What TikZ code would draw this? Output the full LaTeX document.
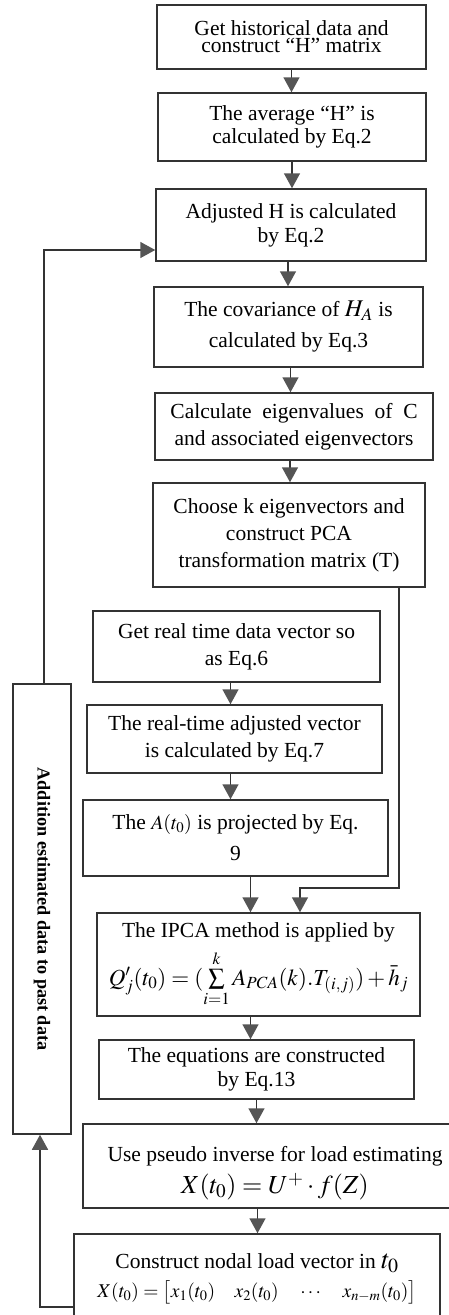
\documentclass[tikz,border=0pt]{standalone}
\usepackage{mathptmx}
\usepackage{fontspec}
\setmainfont{Liberation Serif}
\usetikzlibrary{arrows.meta}
\definecolor{linec}{HTML}{333333}
\definecolor{tipc}{HTML}{555555}
\begin{document}
\begin{tikzpicture}[x=1pt,y=-1pt,
  box/.style={draw=linec, line width=1.5pt, fill=white, align=center, inner sep=0pt,
              font=\fontsize{21.5}{27}\selectfont},
  arr/.style={draw=linec, line width=1.5pt,
              -{Triangle[length=15pt,width=16pt,color=tipc,fill=tipc]}},
  sidetext/.style={rotate=-90, font=\bfseries\fontsize{18.2}{20}\selectfont}]
\fill[white] (0,0) rectangle (449,1315);
\useasboundingbox (0,0) rectangle (449,1315);

% main column of process steps
\node[box, minimum width=269pt, minimum height=64pt, font=\fontsize{21.5}{17}\selectfont]
  (b1) at (291.5,37) {Get historical data and\\construct “H” matrix};
\node[box, minimum width=268pt, minimum height=68pt, font=\fontsize{21.5}{23}\selectfont]
  (b2) at (292,127) {The average “H” is\\calculated by Eq.2};
\node[box, minimum width=270pt, minimum height=72pt, font=\fontsize{21.5}{24}\selectfont]
  (b3) at (291,225) {Adjusted H is calculated\\by Eq.2};
\node[box, minimum width=269pt, minimum height=80pt, font=\fontsize{21.5}{31}\selectfont]
  (b4) at (288.5,327) {The covariance of {\fontsize{24}{24}\selectfont$H_{A}$} is\\calculated by Eq.3};
\node[box, minimum width=278pt, minimum height=67pt]
  (b5) at (294,426.5) {Calculate\ \ eigenvalues\ \ of\ \ C\\and associated eigenvectors};
\node[box, minimum width=272pt, minimum height=104pt]
  (b6) at (289,535) {Choose k eigenvectors and\\construct PCA\\transformation matrix (T)};

% real-time branch
\node[box, minimum width=287pt, minimum height=71pt]
  (b7) at (236.5,646.5) {Get real time data vector so\\as Eq.6};
\node[box, minimum width=295pt, minimum height=68pt]
  (b8) at (234.5,739) {The real-time adjusted vector\\is calculated by Eq.7};
\node[box, minimum width=305pt, minimum height=76pt, font=\fontsize{21.5}{31}\selectfont]
  (b9) at (235.5,838) {The {\fontsize{20}{20}\selectfont$A(t_{0})$} is projected by Eq.\\9};

% estimation steps
\node[box, minimum width=323pt, minimum height=103pt, font=\fontsize{21.5}{42}\selectfont]
  (b10) at (258.5,964.5) {The IPCA method is applied by\\[6pt]
  {\fontsize{23}{23}\selectfont$Q'_{j}(t_{0})=(\sum\limits_{i=1}^{k}A_{PCA}(k).T_{(i,j)})+\bar{h}_{j}$}};
\node[box, minimum width=315pt, minimum height=59pt, font=\fontsize{21.5}{24}\selectfont]
  (b11) at (256.5,1069.5) {The equations are constructed\\by Eq.13};
\node[box, minimum width=384pt, minimum height=84pt, font=\fontsize{21.5}{32}\selectfont]
  (b12) at (275,1166) {\rule{0pt}{30pt}Use pseudo inverse for load estimating\\
  {\fontsize{26}{30}\selectfont$X(t_{0})=U^{+}\cdot f(Z)$}};
\node[box, minimum width=366pt, minimum height=90pt, font=\fontsize{21.5}{29}\selectfont]
  (b13) at (257,1279) {Construct nodal load vector in {\fontsize{27}{27}\selectfont$t_{0}$}\\
  {\fontsize{19.5}{19.5}\selectfont$X(t_{0})=\bigl[x_{1}(t_{0})\quad x_{2}(t_{0})\quad\cdots\quad x_{n-m}(t_{0})\bigr]$}};

% feedback box on the left
\node[box, minimum width=58pt, minimum height=450pt] (lb) at (42,909) {};
\node[sidetext] (lbt) at (lb.center) {Addition estimated data to past data};

% straight flow arrows
\draw[arr] (b1.south) -- (b1.south |- b2.north);
\draw[arr] (b2.south) -- (b2.south |- b3.north);
\draw[arr] ([xshift=-3pt]b3.south) -- ([xshift=-3pt]b3.south |- b4.north);
\draw[arr] ([xshift=2pt]b4.south) -- ([xshift=2pt]b4.south |- b5.north);
\draw[arr] ([xshift=-4pt]b5.south) -- ([xshift=-4pt]b5.south |- b6.north);
\draw[arr] ([xshift=-6pt]b7.south) -- ([xshift=-6pt]b7.south |- b8.north);
\draw[arr] ([xshift=-4pt]b8.south) -- ([xshift=-4pt]b8.south |- b9.north);
\draw[arr] ([xshift=15pt]b9.south) -- ([xshift=15pt]b9.south |- b10.north);
\draw[arr] ([xshift=-8pt]b10.south) -- ([xshift=-8pt]b10.south |- b11.north);
\draw[arr] (b11.south) -- (b11.south |- b12.north);
\draw[arr] ([xshift=1pt]b12.south -| b11.south) -- ([xshift=1pt]b11.south |- b13.north);

% transformation matrix feeds the IPCA step
\coordinate (rx) at (399,0);
\coordinate (rt) at (300,888);
\draw[arr] (b6.south -| rx) |- (rt) -- (rt |- b10.north);

% feedback loop
\coordinate (fbL) at (40,1307);
\coordinate (fbT) at (44,250);
\draw[arr] (b13.west |- fbL) -- (fbL) -- (fbL |- lb.south);
\draw[arr] (fbT |- lb.north) -- (fbT) -- (b3.west |- fbT);
\end{tikzpicture}
\end{document}
